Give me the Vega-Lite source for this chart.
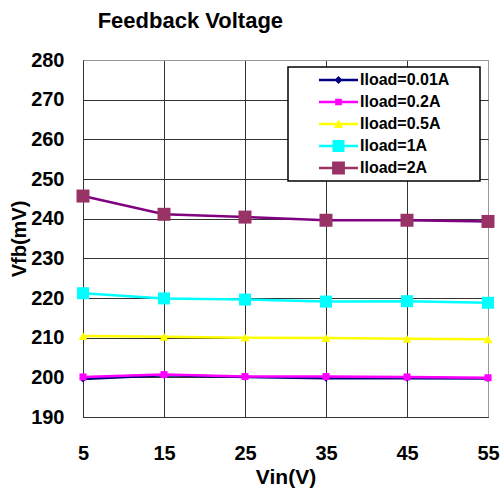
{
  "$schema": "https://vega.github.io/schema/vega-lite/v6.json",
  "width": 405,
  "height": 357,
  "autosize": {"type": "none"},
  "padding": {"left": 83, "top": 60, "right": 13, "bottom": 72},
  "background": "white",
  "config": {"view": {"stroke": "#999", "strokeWidth": 1}, "font": "Liberation Sans"},
  "title": {"text": "Feedback Voltage", "anchor": "start", "dx": 88, "fontSize": 22, "fontWeight": "bold", "font": "Liberation Sans", "color": "black", "baseline": "alphabetic", "offset": 0},
  "data": {"values": [
    {"series": "Iload=0.01A", "vin": 5, "vfb": 199.6},
    {"series": "Iload=0.01A", "vin": 15, "vfb": 200.5},
    {"series": "Iload=0.01A", "vin": 25, "vfb": 200.1},
    {"series": "Iload=0.01A", "vin": 35, "vfb": 199.8},
    {"series": "Iload=0.01A", "vin": 45, "vfb": 199.8},
    {"series": "Iload=0.01A", "vin": 55, "vfb": 199.7},
    {"series": "Iload=0.2A", "vin": 5, "vfb": 200.1},
    {"series": "Iload=0.2A", "vin": 15, "vfb": 200.7},
    {"series": "Iload=0.2A", "vin": 25, "vfb": 200.2},
    {"series": "Iload=0.2A", "vin": 35, "vfb": 200.2},
    {"series": "Iload=0.2A", "vin": 45, "vfb": 200.1},
    {"series": "Iload=0.2A", "vin": 55, "vfb": 199.9},
    {"series": "Iload=0.5A", "vin": 5, "vfb": 210.4},
    {"series": "Iload=0.5A", "vin": 15, "vfb": 210.2},
    {"series": "Iload=0.5A", "vin": 25, "vfb": 210.0},
    {"series": "Iload=0.5A", "vin": 35, "vfb": 209.9},
    {"series": "Iload=0.5A", "vin": 45, "vfb": 209.7},
    {"series": "Iload=0.5A", "vin": 55, "vfb": 209.6},
    {"series": "Iload=1A", "vin": 5, "vfb": 221.2},
    {"series": "Iload=1A", "vin": 15, "vfb": 219.9},
    {"series": "Iload=1A", "vin": 25, "vfb": 219.6},
    {"series": "Iload=1A", "vin": 35, "vfb": 219.1},
    {"series": "Iload=1A", "vin": 45, "vfb": 219.2},
    {"series": "Iload=1A", "vin": 55, "vfb": 218.8},
    {"series": "Iload=2A", "vin": 5, "vfb": 245.7},
    {"series": "Iload=2A", "vin": 15, "vfb": 241.1},
    {"series": "Iload=2A", "vin": 25, "vfb": 240.4},
    {"series": "Iload=2A", "vin": 35, "vfb": 239.6},
    {"series": "Iload=2A", "vin": 45, "vfb": 239.6},
    {"series": "Iload=2A", "vin": 55, "vfb": 239.3}
  ]},
  "encoding": {
    "x": {"field": "vin", "type": "quantitative",
      "scale": {"domain": [5, 55], "nice": false, "zero": false},
      "axis": {"values": [5, 15, 25, 35, 45, 55], "title": "Vin(V)", "grid": true,
        "gridColor": {"condition": {"test": "datum.value === 55", "value": "#999"}, "value": "#333"},
        "gridOpacity": 1, "ticks": false, "domainColor": "#333", "labelFlush": false, "labelOverlap": false,
        "labelFont": "Liberation Sans", "labelFontSize": 20, "labelFontWeight": "bold", "labelColor": "black", "labelPadding": 26,
        "titleFont": "Liberation Sans", "titleFontSize": 21, "titleFontWeight": "bold", "titleColor": "black", "titlePadding": 3}},
    "y": {"field": "vfb", "type": "quantitative",
      "scale": {"domain": [190, 280], "nice": false, "zero": false},
      "axis": {"values": [190, 200, 210, 220, 230, 240, 250, 260, 270, 280], "title": "Vfb(mV)", "grid": true,
        "gridColor": {"condition": {"test": "datum.value === 280", "value": "#999"}, "value": "#333"},
        "gridOpacity": 1, "ticks": false, "domainColor": "#333", "labelOverlap": false,
        "labelFont": "Liberation Sans", "labelFontSize": 20, "labelFontWeight": "bold", "labelColor": "black", "labelPadding": 19,
        "titleFont": "Liberation Sans", "titleFontSize": 20, "titleFontWeight": "bold", "titleColor": "black", "titlePadding": 1}}
  },
  "layer": [
    {"mark": {"type": "line", "strokeWidth": 2.5},
     "encoding": {
       "color": {"field": "series", "type": "nominal",
         "scale": {"domain": ["Iload=0.01A", "Iload=0.2A", "Iload=0.5A", "Iload=1A", "Iload=2A"],
                   "range": ["#000080", "#FF00FF", "#FFFF00", "#00FFFF", "#800080"]},
         "legend": {"orient": "none", "legendX": 205, "legendY": 7, "title": null,
           "padding": 5, "strokeColor": "black", "fillColor": "white", "rowPadding": 6, "labelOffset": 13.5, "symbolOffset": 37.5,
           "symbolSize": 256, "symbolStrokeWidth": 0,
           "labelFont": "Liberation Sans", "labelFontSize": 16, "labelFontWeight": "bold", "labelColor": "black",
           "encode": {
             "legend": {"update": {"strokeWidth": {"value": 1.5}}},
             "symbols": {"update": {
               "size": {"value": 256},
               "shape": {"signal": "datum.value === 'Iload=0.01A' ? 'M16.94,0L16.94,0M-2.44,-0.17H2.44V0.17H-2.44ZM0,-0.5L0.5,0L0,0.5L-0.5,0Z' : datum.value === 'Iload=0.2A' ? 'M16.94,0L16.94,0M-2.44,-0.17H2.44V0.17H-2.44ZM-0.42,-0.42H0.42V0.42H-0.42Z' : datum.value === 'Iload=0.5A' ? 'M16.94,0L16.94,0M-2.44,-0.17H2.44V0.17H-2.44ZM0,-0.55L0.57,0.5H-0.57Z' : datum.value === 'Iload=1A' ? 'M16.94,0L16.94,0M-2.44,-0.17H2.44V0.17H-2.44ZM-0.75,-0.75H0.75V0.75H-0.75Z' : 'M16.94,0L16.94,0M-2.44,-0.17H2.44V0.17H-2.44ZM-0.8,-0.8H0.8V0.8H-0.8Z'"},
               "fill": {"signal": "datum.value === 'Iload=0.01A' ? '#000080' : datum.value === 'Iload=0.2A' ? '#FF00FF' : datum.value === 'Iload=0.5A' ? '#FFFF00' : datum.value === 'Iload=1A' ? '#00FFFF' : '#993366'"},
               "stroke": {"value": "transparent"},
               "strokeWidth": {"value": 0},
               "opacity": {"value": 1},
               "fillOpacity": {"value": 1}
             }}
           }}}
     }},
    {"transform": [{"filter": "datum.series === 'Iload=0.01A'"}],
     "mark": {"type": "point", "filled": true, "opacity": 1, "shape": "diamond", "size": 49, "color": "#000080"}},
    {"transform": [{"filter": "datum.series === 'Iload=0.2A'"}],
     "mark": {"type": "point", "filled": true, "opacity": 1, "shape": "square", "size": 49, "color": "#FF00FF"}},
    {"transform": [{"filter": "datum.series === 'Iload=0.5A'"}],
     "mark": {"type": "point", "filled": true, "opacity": 1, "shape": "triangle-up", "size": 81, "color": "#FFFF00"}},
    {"transform": [{"filter": "datum.series === 'Iload=1A'"}],
     "mark": {"type": "point", "filled": true, "opacity": 1, "shape": "square", "size": 144, "color": "#00FFFF"}},
    {"transform": [{"filter": "datum.series === 'Iload=2A'"}],
     "mark": {"type": "point", "filled": true, "opacity": 1, "shape": "square", "size": 169, "color": "#993366"}}
  ]
}
